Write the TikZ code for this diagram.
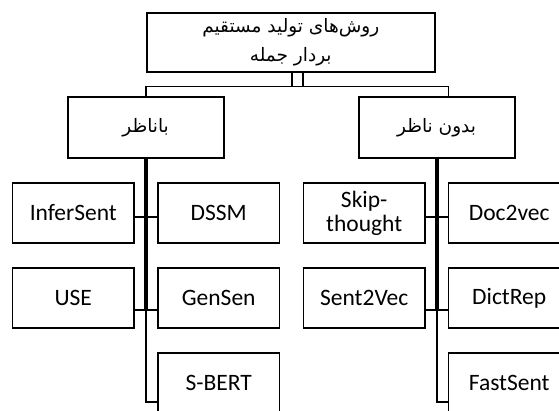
\documentclass[tikz,border=0pt]{standalone}
\usepackage{fontspec}
\setmainfont{Carlito}
\newfontfamily\arabicfont[Script=Arabic]{DejaVu Sans}
\TeXXeTstate=1
\begin{document}
\begin{tikzpicture}[x=1pt,y=-1pt,
  box/.style={draw=black, line width=1.8pt, rectangle, inner sep=0pt, align=center},
  fa/.style={font=\arabicfont\fontsize{18.5}{29}\selectfont},
  en/.style={font=\fontsize{23.5}{24}\selectfont},
  child/.style={box, en, minimum width=121.5pt, minimum height=60pt},
  conn/.style={draw=black, line width=1.8pt},
  spine/.style={draw=black, line width=3.8pt}]
\useasboundingbox (0,0) rectangle (559,410);
\clip (0,0) rectangle (559,410);
\fill[white] (0,0) rectangle (559,410);
% top
\node[box, fa, minimum width=288pt, minimum height=59pt] (top) at (290.8,42.2)
  {\beginR روش‌های تولید مستقیم\endR\\\beginR بردار جمله\endR};
% parents
\node[box, fa, minimum width=156pt, minimum height=61pt] (lp) at (145.6,127.8) {\beginR باناظر\endR};
\node[box, fa, minimum width=156pt, minimum height=61pt] (rp) at (436.6,127.8) {\beginR بدون ناظر\endR};
% left children
\node[child] (c11) at (73.3,213) {InferSent};
\node[child] (c12) at (218.7,213) {DSSM};
\node[child] (c21) at (73.3,298) {USE};
\node[child] (c22) at (218.7,298) {GenSen};
\node[child] (c32) at (218.7,383) {S-BERT};
% right children
\node[child] (d11) at (364.2,213) {Skip-\\thought};
\node[child] (d12) at (509.2,213) {Doc2vec};
\node[child] (d21) at (364.2,298) {Sent2Vec};
\node[child] (d22) at (509.2,298) {DictRep};
\node[child] (d32) at (509.2,383) {FastSent};
% top connectors
\coordinate (j1) at (292,86.4);
\coordinate (j2) at (303,86.4);
\coordinate (hl) at (145.6,86.4);
\coordinate (hr) at (448.5,86.4);
\draw[conn] (j1 |- top.south) -- (j1);
\draw[conn] (j2 |- top.south) -- (j2);
\draw[conn] (lp.north -| hl) -- (hl) -- (hr) -- (hr |- rp.north);
% left tree
\coordinate (l1) at ([yshift=-4pt]c11.east);
\coordinate (l2) at ([yshift=-12pt]c21.east);
\coordinate (l3) at ([yshift=-18.7pt]c32.west);
\draw[spine] (lp.south) -- (lp.south |- l2);
\draw[conn] (lp.south |- l2) |- (l3);
\draw[conn] (l1) -- (l1 -| c12.west);
\draw[conn] (l2) -- (l2 -| c22.west);
% right tree
\coordinate (r1) at ([yshift=-4pt]d11.east);
\coordinate (r2) at ([yshift=-12pt]d21.east);
\coordinate (r3) at ([yshift=-18.7pt]d32.west);
\draw[spine] (rp.south) -- (rp.south |- r2);
\draw[conn] (rp.south |- r2) |- (r3);
\draw[conn] (r1) -- (r1 -| d12.west);
\draw[conn] (r2) -- (r2 -| d22.west);
\end{tikzpicture}
\end{document}
